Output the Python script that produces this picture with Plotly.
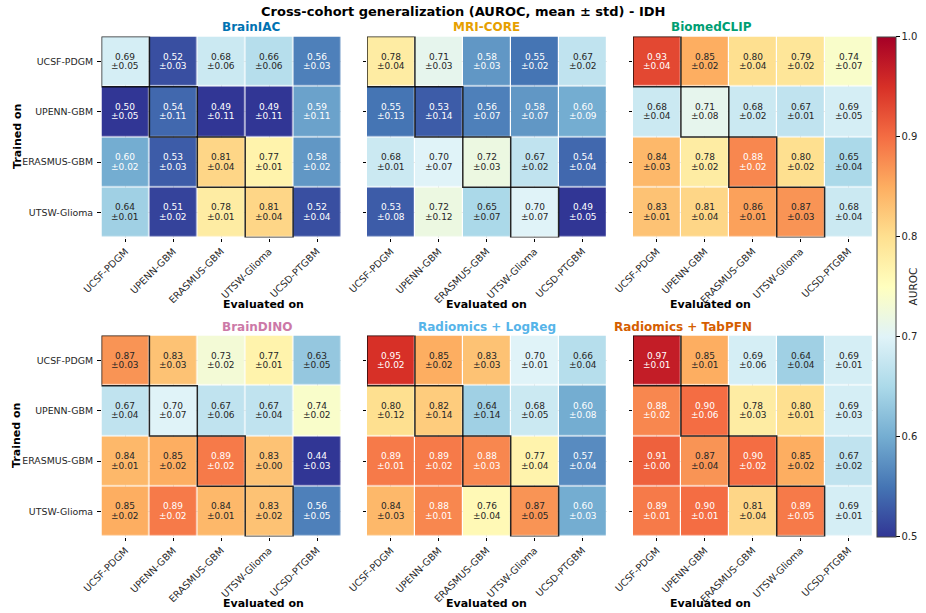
import plotly.graph_objects as go

# ---------------- data ----------------
eval_cohorts = ["UCSF-PDGM", "UPENN-GBM", "ERASMUS-GBM", "UTSW-Glioma", "UCSD-PTGBM"]
train_cohorts = ["UCSF-PDGM", "UPENN-GBM", "ERASMUS-GBM", "UTSW-Glioma"]

models = ["BrainIAC", "MRI-CORE", "BiomedCLIP", "BrainDINO", "Radiomics + LogReg", "Radiomics + TabPFN"]
model_colors = ["#0072B2", "#E69F00", "#009E73", "#CC79A7", "#56B4E9", "#D55E00"]

brainiac_mean = [[0.69, 0.52, 0.68, 0.66, 0.56],
                 [0.50, 0.54, 0.49, 0.49, 0.59],
                 [0.60, 0.53, 0.81, 0.77, 0.58],
                 [0.64, 0.51, 0.78, 0.81, 0.52]]
brainiac_std = [[0.05, 0.03, 0.06, 0.06, 0.03],
                [0.05, 0.11, 0.11, 0.11, 0.11],
                [0.02, 0.03, 0.04, 0.01, 0.02],
                [0.01, 0.02, 0.01, 0.04, 0.04]]

mricore_mean = [[0.78, 0.71, 0.58, 0.55, 0.67],
                [0.55, 0.53, 0.56, 0.58, 0.60],
                [0.68, 0.70, 0.72, 0.67, 0.54],
                [0.53, 0.72, 0.65, 0.70, 0.49]]
mricore_std = [[0.04, 0.03, 0.03, 0.02, 0.02],
               [0.13, 0.14, 0.07, 0.07, 0.09],
               [0.01, 0.07, 0.03, 0.02, 0.04],
               [0.08, 0.12, 0.07, 0.07, 0.05]]

biomedclip_mean = [[0.93, 0.85, 0.80, 0.79, 0.74],
                   [0.68, 0.71, 0.68, 0.67, 0.69],
                   [0.84, 0.78, 0.88, 0.80, 0.65],
                   [0.83, 0.81, 0.86, 0.87, 0.68]]
biomedclip_std = [[0.04, 0.02, 0.04, 0.02, 0.07],
                  [0.04, 0.08, 0.02, 0.01, 0.05],
                  [0.03, 0.02, 0.02, 0.02, 0.04],
                  [0.01, 0.04, 0.01, 0.03, 0.04]]

braindino_mean = [[0.87, 0.83, 0.73, 0.77, 0.63],
                  [0.67, 0.70, 0.67, 0.67, 0.74],
                  [0.84, 0.85, 0.89, 0.83, 0.44],
                  [0.85, 0.89, 0.84, 0.83, 0.56]]
braindino_std = [[0.03, 0.03, 0.02, 0.01, 0.05],
                 [0.04, 0.07, 0.06, 0.04, 0.02],
                 [0.01, 0.02, 0.02, 0.00, 0.03],
                 [0.02, 0.02, 0.01, 0.02, 0.05]]

logreg_mean = [[0.95, 0.85, 0.83, 0.70, 0.66],
               [0.80, 0.82, 0.64, 0.68, 0.60],
               [0.89, 0.89, 0.88, 0.77, 0.57],
               [0.84, 0.88, 0.76, 0.87, 0.60]]
logreg_std = [[0.02, 0.02, 0.03, 0.01, 0.04],
              [0.12, 0.14, 0.14, 0.05, 0.08],
              [0.01, 0.02, 0.03, 0.04, 0.04],
              [0.03, 0.01, 0.04, 0.05, 0.03]]

tabpfn_mean = [[0.97, 0.85, 0.69, 0.64, 0.69],
               [0.88, 0.90, 0.78, 0.80, 0.69],
               [0.91, 0.87, 0.90, 0.85, 0.67],
               [0.89, 0.90, 0.81, 0.89, 0.69]]
tabpfn_std = [[0.01, 0.01, 0.06, 0.04, 0.01],
              [0.02, 0.06, 0.03, 0.01, 0.03],
              [0.00, 0.04, 0.02, 0.02, 0.02],
              [0.01, 0.01, 0.04, 0.05, 0.01]]

means = [brainiac_mean, mricore_mean, biomedclip_mean, braindino_mean, logreg_mean, tabpfn_mean]
stds = [brainiac_std, mricore_std, biomedclip_std, braindino_std, logreg_std, tabpfn_std]

cbar_ticks = [0.5, 0.6, 0.7, 0.8, 0.9, 1.0]

# ---------------- layout geometry (pixels) ----------------
W, H = 926, 613
PANEL_X = [(101.5, 341.0), (367.0, 606.5), (633.0, 872.5)]
PANEL_Y = [(36.5, 237.5), (335.5, 536.5)]
FONT = "DejaVu Sans"
DARK = "#262626"
XTICK_SIZE = 9.7
YTICK_SIZE = 9.4
CELL_SIZE = 9


def px_x(p):
    return p / W


def px_y(p):
    return 1 - p / H


fig = go.Figure()
shapes = []
annotations = []
layout_axes = {}

for k, name in enumerate(models):
    r, c = divmod(k, 3)
    idx = k + 1
    xa = "x" if idx == 1 else f"x{idx}"
    ya = "y" if idx == 1 else f"y{idx}"
    xname = "xaxis" if idx == 1 else f"xaxis{idx}"
    yname = "yaxis" if idx == 1 else f"yaxis{idx}"

    z = means[k]
    s = stds[k]
    fig.add_trace(go.Heatmap(
        z=z, x=list(range(len(eval_cohorts))), y=list(range(len(train_cohorts))),
        coloraxis="coloraxis", xgap=1.2, ygap=1.2, xaxis=xa, yaxis=ya,
        hovertemplate="%{z:.2f}<extra></extra>",
    ))

    x0, x1 = PANEL_X[c]
    y0, y1 = PANEL_Y[r]
    layout_axes[xname] = dict(
        domain=[px_x(x0), px_x(x1)], anchor=ya, range=[-0.5, len(eval_cohorts) - 0.5],
        tickmode="array", tickvals=list(range(len(eval_cohorts))), ticktext=eval_cohorts,
        tickangle=-45, ticks="outside", ticklen=3.5, tickwidth=0.8, tickcolor="#000",
        tickfont=dict(family=FONT, size=XTICK_SIZE, color=DARK), automargin=False,
        showgrid=True, gridcolor="rgba(190,190,190,0.35)", gridwidth=1,
        zeroline=False, showline=False, layer="above traces", fixedrange=True,
    )
    layout_axes[yname] = dict(
        domain=[px_y(y1), px_y(y0)], anchor=xa, range=[len(train_cohorts) - 0.5, -0.5],
        tickmode="array", tickvals=list(range(len(train_cohorts))),
        ticktext=train_cohorts if c == 0 else [""] * len(train_cohorts),
        ticks="outside", ticklen=3.5, tickwidth=0.8, tickcolor="#000",
        ticklabelstandoff=2,
        tickfont=dict(family=FONT, size=YTICK_SIZE, color=DARK), automargin=False,
        showgrid=True, gridcolor="rgba(190,190,190,0.35)", gridwidth=1,
        zeroline=False, showline=False, layer="above traces", fixedrange=True,
    )

    # cell labels
    for i in range(len(train_cohorts)):
        for j in range(len(eval_cohorts)):
            v = z[i][j]
            col = "white" if (v < 0.615 or v >= 0.875) else DARK
            annotations.append(dict(x=j, y=i, xref=xa, yref=ya, text=f"{v:.2f}",
                                    showarrow=False, yshift=5,
                                    font=dict(family=FONT, size=CELL_SIZE, color=col)))
            annotations.append(dict(x=j, y=i, xref=xa, yref=ya, text=f"±{s[i][j]:.2f}",
                                    showarrow=False, yshift=-4.5,
                                    font=dict(family=FONT, size=CELL_SIZE, color=col)))

    # diagonal (in-cohort) boxes
    for d in range(min(len(train_cohorts), len(eval_cohorts))):
        if train_cohorts[d] == eval_cohorts[d]:
            shapes.append(dict(type="rect", xref=xa, yref=ya,
                               x0=d - 0.5, x1=d + 0.5, y0=d - 0.5, y1=d + 0.5,
                               line=dict(color="rgba(0,0,0,0.85)", width=1.5)))

    # panel title
    annotations.append(dict(x=px_x((x0 + x1) / 2), y=px_y(y0 - 9), xref="paper", yref="paper",
                            text=f"<b>{name}</b>", showarrow=False, yanchor="middle",
                            borderpad=0,
                            font=dict(family=FONT, size=12, color=model_colors[k])))
    # x axis title
    annotations.append(dict(x=px_x((x0 + x1) / 2), y=px_y(y1 + 67), xref="paper", yref="paper",
                            text="<b>Evaluated on</b>", showarrow=False, yanchor="middle",
                            font=dict(family=FONT, size=11, color="#000")))
    if c == 0:
        annotations.append(dict(x=px_x(17), y=px_y((y0 + y1) / 2), xref="paper", yref="paper",
                                text="<b>Trained on</b>", showarrow=False, textangle=-90,
                                xanchor="center", yanchor="middle",
                                font=dict(family=FONT, size=11, color="#000")))

annotations.append(dict(x=0.5, y=px_y(11.5), xref="paper", yref="paper",
                        text="<b>Cross-cohort generalization (AUROC, mean ± std) - IDH</b>",
                        showarrow=False, yanchor="middle", borderpad=0,
                        font=dict(family=FONT, size=13, color="#000")))

cb_top, cb_bot = PANEL_Y[0][0], PANEL_Y[1][1]
fig.update_layout(
    template="none",
    width=W, height=H, margin=dict(l=0, r=0, t=0, b=0, autoexpand=False),
    paper_bgcolor="white", plot_bgcolor="white",
    font=dict(family=FONT, size=10, color=DARK),
    coloraxis=dict(
        colorscale="RdYlBu_r", cmin=0.5, cmax=1.0,
        colorbar=dict(
            x=px_x(877), xanchor="left", xpad=0, ypad=0,
            y=px_y((cb_top + cb_bot) / 2), yanchor="middle",
            len=(cb_bot - cb_top) / H, lenmode="fraction",
            thickness=19, thicknessmode="pixels",
            outlinewidth=1, outlinecolor="#444",
            tickmode="array", tickvals=cbar_ticks, ticktext=[f"{t:.1f}" for t in cbar_ticks],
            ticks="outside", ticklen=3.5, tickcolor="#000",
            tickfont=dict(family=FONT, size=10, color=DARK),
            title=dict(text="AUROC", side="right", font=dict(family=FONT, size=10.5, color=DARK)),
        ),
    ),
    shapes=shapes, annotations=annotations, showlegend=False,
    **layout_axes,
)

fig.write_html("out.html")
